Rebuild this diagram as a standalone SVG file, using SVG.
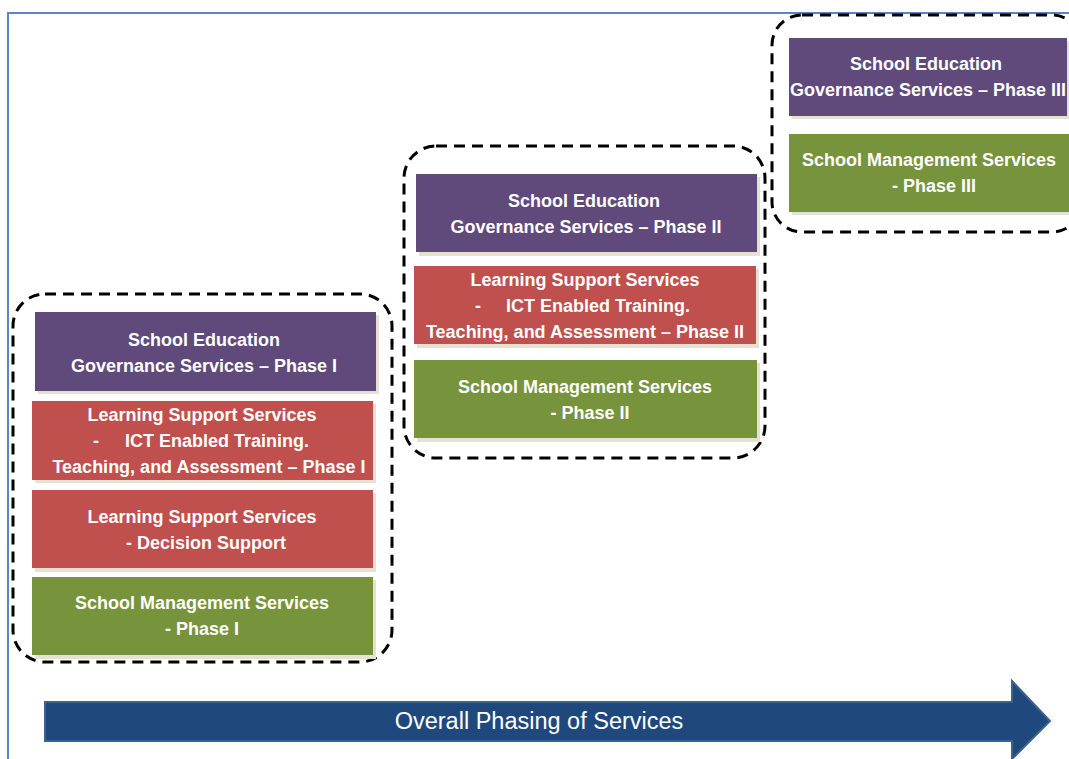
<svg xmlns="http://www.w3.org/2000/svg" width="1069" height="759" viewBox="0 0 1069 759">
<style>
.frame{fill:none;stroke:#5b86c3;stroke-width:2}
.grp{fill:none;stroke:#000;stroke-width:3;stroke-dasharray:11 7}
.sh{fill:#e6e2d3}
.pur{fill:#604a7b}
.red{fill:#c0504d}
.grn{fill:#77933c}
.t{font-family:"Liberation Sans",Arial,sans-serif;font-weight:bold;font-size:18px;fill:#fff;text-anchor:middle}
.at{font-family:"Liberation Sans",Arial,sans-serif;font-size:23.5px;fill:#fff;text-anchor:middle}
</style>
<rect width="1069" height="759" fill="#fff"/>
<path class="frame" d="M8,759 V13 H1069"/>
<g id="group-phase1">
<rect class="grp" x="13" y="294" width="379" height="368" rx="32"/>
</g>
<g id="group-phase2">
<rect class="grp" x="404" y="146" width="361" height="312" rx="32"/>
</g>
<g id="group-phase3">
<rect class="grp" x="772" y="15" width="310" height="217" rx="30"/>
</g>
<g id="n-gov1">
<rect class="sh" x="38" y="315" width="341" height="79"/>
<rect class="pur" x="35" y="312" width="341" height="79"/>
<text class="t" x="204" y="346">School Education</text>
<text class="t" x="204" y="372">Governance Services – Phase I</text>
</g>
<g id="n-lss1">
<rect class="sh" x="35" y="404" width="341" height="79"/>
<rect class="red" x="32" y="401" width="341" height="79"/>
<text class="t" x="202" y="421">Learning Support Services</text>
<text class="t" x="202" y="447"><tspan x="96">-</tspan><tspan x="217">ICT Enabled Training.</tspan></text>
<text class="t" x="209" y="473">Teaching, and Assessment – Phase I</text>
</g>
<g id="n-lss-ds">
<rect class="sh" x="35" y="493" width="341" height="79"/>
<rect class="red" x="32" y="490" width="341" height="78"/>
<text class="t" x="202" y="523">Learning Support Services</text>
<text class="t" x="206" y="549">- Decision Support</text>
</g>
<g id="n-sms1">
<rect class="sh" x="35" y="580" width="341" height="79"/>
<rect class="grn" x="32" y="577" width="341" height="78"/>
<text class="t" x="202" y="609">School Management Services</text>
<text class="t" x="202" y="635">- Phase I</text>
</g>
<g id="n-gov2">
<rect class="sh" x="419" y="177" width="341" height="79"/>
<rect class="pur" x="416" y="174" width="341" height="78"/>
<text class="t" x="584" y="207">School Education</text>
<text class="t" x="586" y="233">Governance Services – Phase II</text>
</g>
<g id="n-lss2">
<rect class="sh" x="417" y="269" width="342" height="79"/>
<rect class="red" x="414" y="266" width="342" height="78"/>
<text class="t" x="585" y="286">Learning Support Services</text>
<text class="t" x="585" y="312"><tspan x="478">-</tspan><tspan x="598">ICT Enabled Training.</tspan></text>
<text class="t" x="585" y="338">Teaching, and Assessment – Phase II</text>
</g>
<g id="n-sms2">
<rect class="sh" x="417" y="363" width="343" height="79"/>
<rect class="grn" x="414" y="360" width="343" height="78"/>
<text class="t" x="585" y="393">School Management Services</text>
<text class="t" x="590" y="419">- Phase II</text>
</g>
<g id="n-gov3">
<rect class="sh" x="792" y="41" width="280" height="78"/>
<rect class="pur" x="789" y="38" width="278" height="78"/>
<text class="t" x="926" y="70">School Education</text>
<text class="t" x="928" y="96">Governance Services – Phase III</text>
</g>
<g id="n-sms3">
<rect class="sh" x="792" y="137" width="280" height="78"/>
<rect class="grn" x="789" y="134" width="280" height="78"/>
<text class="t" x="929" y="166">School Management Services</text>
<text class="t" x="934" y="192">- Phase III</text>
</g>
<g id="connectors">
<g id="arrow-phasing">
<path d="M45,702 H1012 V681 L1050,721 L1012,759 V741 H45 Z" fill="#1f497d" stroke="#3d6193" stroke-width="2"/>
<text class="at" x="539" y="729">Overall Phasing of Services</text>
</g>
</g>
</svg>
